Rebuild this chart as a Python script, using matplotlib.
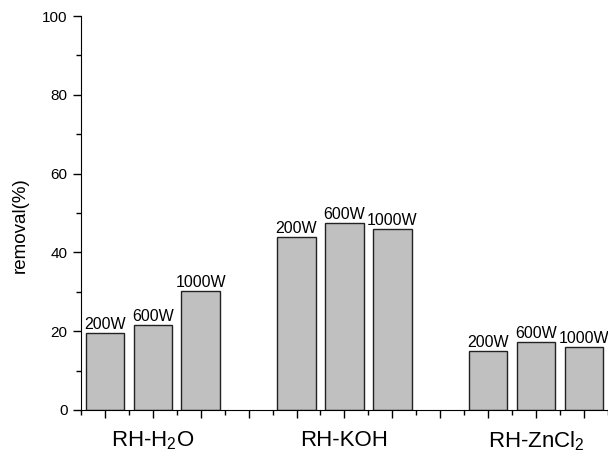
import numpy as np
import matplotlib.pyplot as plt

plt.rcParams['font.family'] = ['Liberation Sans', 'DejaVu Sans']
plt.rcParams['mathtext.fontset'] = 'custom'
plt.rcParams['mathtext.rm'] = 'Liberation Sans'
plt.rcParams['mathtext.it'] = 'Liberation Sans'

groups = ['RH-H$_2$O', 'RH-KOH', 'RH-ZnCl$_2$']
powers = ['200W', '600W', '1000W']
removal = [
    [19.5, 21.6, 30.2],   # RH-H2O
    [43.9, 47.5, 45.9],   # RH-KOH
    [15.0, 17.3, 15.9],   # RH-ZnCl2
]

fig = plt.figure(figsize=(6.08, 4.59), dpi=100)
ax = fig.add_axes([0.133, 0.107, 0.867, 0.858])

for g, vals in enumerate(removal):
    for k, v in enumerate(vals):
        x = g * 4 + k
        ax.bar(x, v, width=0.8, color='#c0c0c0', edgecolor='#222222', linewidth=1.0)
        ax.text(x, v + 0.3, powers[k], ha='center', va='bottom', fontsize=11.5)

ax.set_xlim(-0.5, 10.5)
ax.set_ylim(0, 100)
ax.set_xticks(np.arange(0, 11))
ax.set_xticklabels([])
ax.set_xticks(np.arange(-0.5, 11, 1), minor=True)
ax.set_yticks([0, 20, 40, 60, 80, 100])
ax.set_yticks(np.arange(10, 100, 20), minor=True)
ax.tick_params(axis='both', which='major', direction='out', length=6, width=1, labelsize=11)
ax.tick_params(axis='both', which='minor', direction='out', length=3.5, width=1)

# group names under the middle bar of each group
for g, name in enumerate(groups):
    ax.text(g * 4 + 1, -5.0, name, ha='center', va='top', fontsize=16)

ax.set_ylabel('removal(%)', fontsize=13.5)
ax.yaxis.set_label_coords(-0.098, 0.47)
ax.spines['top'].set_visible(False)
ax.spines['right'].set_visible(False)

fig.savefig('out.png', dpi=100)
